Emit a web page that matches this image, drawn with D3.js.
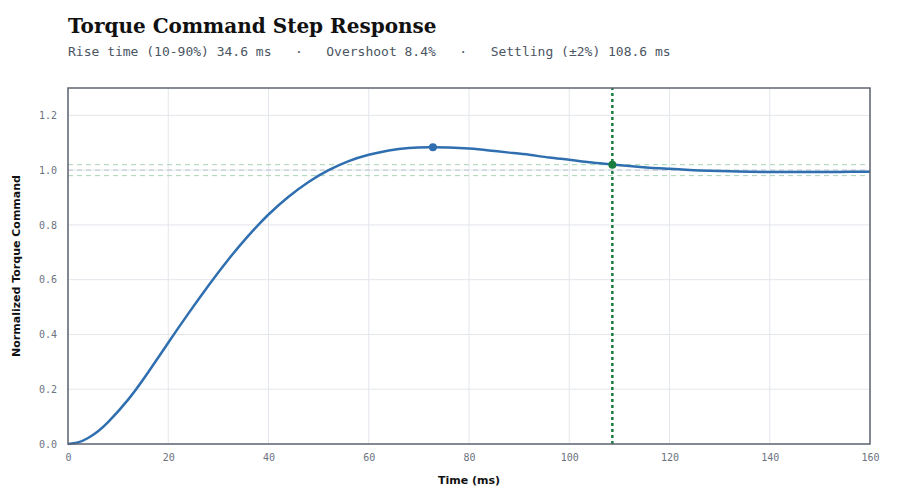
<!DOCTYPE html>
<html><head><meta charset="utf-8">
<script src="https://cdn.jsdelivr.net/npm/d3@7"></script>
<style>
body{margin:0;background:#fff;}
svg{display:block;}
</style>
</head><body>
<svg id="chart" width="900" height="500"></svg>
<script>
const title = "Torque Command Step Response";
const subtitle = "Rise time (10-90%) 34.6 ms   \u00B7   Overshoot 8.4%   \u00B7   Settling (\u00B12%) 108.6 ms";
const timeMs = [0,2,4,6,8,12,16,20,24,28,32,36,40,44,48,52,56,60,64,68,72,76,80,84,88,92,96,100,104,108,112,116,120,124,128,132,136,140,144,148,152,156,160];
const response = [0,0.006,0.022,0.047,0.080,0.162,0.262,0.370,0.476,0.578,0.674,0.761,0.838,0.903,0.957,1.000,1.033,1.056,1.072,1.081,1.084,1.083,1.079,1.072,1.064,1.056,1.046,1.038,1.029,1.022,1.015,1.009,1.005,1.001,0.998,0.996,0.994,0.993,0.993,0.993,0.993,0.994,0.994];
const peakPoint = {t: 72.8, v: 1.084};
const settlePoint = {t: 108.6, v: 1.02};
const bandLevels = [0.98, 1.02];
const targetLevel = 1.0;
const xTicks = [0,20,40,60,80,100,120,140,160];
const yTicks = [0,0.2,0.4,0.6,0.8,1.0,1.2];
const xLabel = "Time (ms)";
const yLabel = "Normalized Torque Command";

const svg = d3.select("#chart");
const m = {left:68, right:30, top:88, bottom:56};
const W = 900, H = 500;
const x = d3.scaleLinear().domain([0,160]).range([m.left, W - m.right]);
const y = d3.scaleLinear().domain([0,1.3]).range([H - m.bottom, m.top]);

svg.append("text").attr("x",68).attr("y",33)
  .attr("font-family","'DejaVu Serif', serif").attr("font-weight","bold")
  .attr("font-size",20).attr("fill","#111").text(title);
svg.append("text").attr("x",68).attr("y",56).attr("xml:space","preserve")
  .style("white-space","pre")
  .attr("font-family","'DejaVu Sans Mono', monospace")
  .attr("font-size",13).attr("fill","#4b5563").text(subtitle);

// grid
const g = svg.append("g");
g.selectAll("line.vg").data(xTicks).join("line")
  .attr("x1",d=>x(d)).attr("x2",d=>x(d)).attr("y1",y(0)).attr("y2",y(1.3))
  .attr("stroke","#e3e6ec").attr("stroke-width",1);
g.selectAll("line.hg").data(yTicks).join("line")
  .attr("x1",x(0)).attr("x2",x(160)).attr("y1",d=>y(d)).attr("y2",d=>y(d))
  .attr("stroke","#e3e6ec").attr("stroke-width",1);

// band lines
g.selectAll("line.band").data(bandLevels).join("line")
  .attr("x1",x(0)).attr("x2",x(160)).attr("y1",d=>y(d)).attr("y2",d=>y(d))
  .attr("stroke","#a9d4b6").attr("stroke-width",1).attr("stroke-dasharray","5,4");
g.append("line").attr("x1",x(0)).attr("x2",x(160)).attr("y1",y(targetLevel)).attr("y2",y(targetLevel))
  .attr("stroke","#c6ccd6").attr("stroke-width",1.2).attr("stroke-dasharray","5,4");

// settling vertical
g.append("line").attr("x1",x(settlePoint.t)).attr("x2",x(settlePoint.t)).attr("y1",y(0)).attr("y2",y(1.3))
  .attr("stroke","#1a7d3f").attr("stroke-width",2.5).attr("stroke-dasharray","3,3");

// curve
const pts = timeMs.map((t,i)=>[t,response[i]]);
g.append("path").datum(pts)
  .attr("d", d3.line().x(d=>x(d[0])).y(d=>y(d[1])).curve(d3.curveNatural))
  .attr("fill","none").attr("stroke","#2f6fb0").attr("stroke-width",2.5);

g.append("circle").attr("cx",x(peakPoint.t)).attr("cy",y(peakPoint.v)).attr("r",4).attr("fill","#2f6fb0");
g.append("circle").attr("cx",x(settlePoint.t)).attr("cy",y(settlePoint.v)).attr("r",4).attr("fill","#1a7d3f");

// frame
svg.append("rect").attr("x",x(0)).attr("y",y(1.3)).attr("width",x(160)-x(0)).attr("height",y(0)-y(1.3))
  .attr("fill","none").attr("stroke","#5f6470").attr("stroke-width",1.5);

// axes
const xa = svg.append("g").attr("transform",`translate(0,${y(0)})`)
  .call(d3.axisBottom(x).tickValues(xTicks).tickSize(0).tickPadding(10).tickFormat(d3.format("d")));
const ya = svg.append("g").attr("transform",`translate(${x(0)},0)`)
  .call(d3.axisLeft(y).tickValues(yTicks).tickSize(0).tickPadding(11).tickFormat(d3.format(".1f")));
[xa,ya].forEach(a=>{
  a.select(".domain").remove();
  a.selectAll("text").attr("font-family","'DejaVu Sans Mono', monospace").attr("font-size",10).attr("fill","#6b7280");
});

svg.append("text").attr("x",(x(0)+x(160))/2).attr("y",484).attr("text-anchor","middle")
  .attr("font-family","'DejaVu Sans', sans-serif").attr("font-weight","bold").attr("font-size",11)
  .attr("fill","#111").text(xLabel);
svg.append("text").attr("transform",`translate(20,${(y(0)+y(1.3))/2}) rotate(-90)`).attr("text-anchor","middle")
  .attr("font-family","'DejaVu Sans', sans-serif").attr("font-weight","bold").attr("font-size",11)
  .attr("fill","#111").text(yLabel);
</script>
</body></html>
